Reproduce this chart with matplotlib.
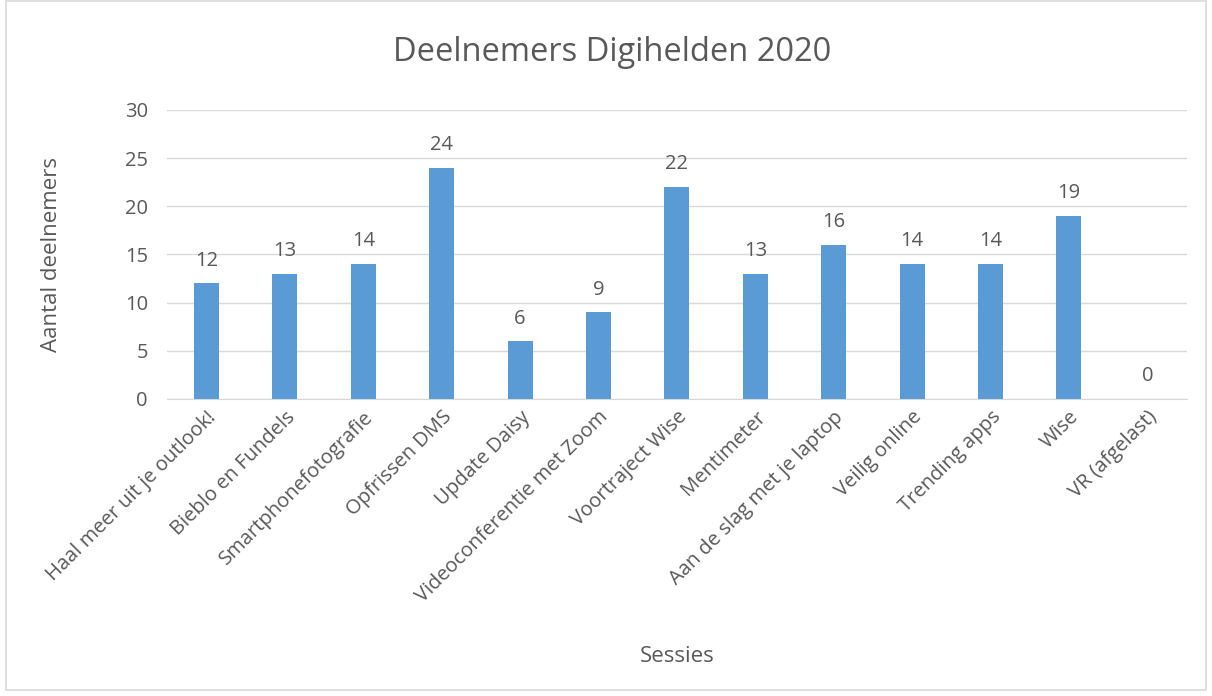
import numpy as np
import matplotlib.pyplot as plt
from matplotlib.patches import Rectangle

plt.rcParams['font.family'] = ['Open Sans', 'DejaVu Sans']

sessies = ['Haal meer uit je outlook!', 'Bieblo en Fundels', 'Smartphonefotografie',
           'Opfrissen DMS', 'Update Daisy', 'Videoconferentie met Zoom',
           'Voortraject Wise', 'Mentimeter', 'Aan de slag met je laptop',
           'Veilig online', 'Trending apps', 'Wise', 'VR (afgelast)']
deelnemers = [12, 13, 14, 24, 6, 9, 22, 13, 16, 14, 14, 19, 0]

txt = '#595959'
fig = plt.figure(figsize=(12.12, 6.96), dpi=100)
ax = fig.add_axes([0.138, 0.427, 0.841, 0.415])

x = np.arange(len(sessies))
ax.bar(x, deelnemers, width=0.32, color='#5b9bd5', zorder=3)
for xi, v in zip(x, deelnemers):
    ax.text(xi, v + 1.3, str(v), ha='center', va='bottom', fontsize=14.5, color=txt)

ax.set_xlim(-0.5, len(sessies) - 0.5)
ax.set_ylim(0, 30)
ax.set_yticks(range(0, 31, 5))
ax.grid(axis='y', color='#d9d9d9', linewidth=1, zorder=0)
for s in ['top', 'right', 'left']:
    ax.spines[s].set_visible(False)
ax.spines['bottom'].set_color('#d9d9d9')
ax.tick_params(axis='both', length=0, labelsize=14.5, colors=txt)
ax.tick_params(axis='y', pad=14)
ax.tick_params(axis='x', pad=6)
ax.set_xticks(x)
ax.set_xticklabels(sessies, rotation=45, ha='right', rotation_mode='anchor')

fig.text(0.505, 0.925, 'Deelnemers Digihelden 2020', ha='center', va='center',
         fontsize=23.5, color=txt)
ax.set_ylabel('Aantal deelnemers', fontsize=16, color=txt)
ax.yaxis.set_label_coords(-0.103, 0.5)
fig.text(0.5586, 0.057, 'Sessies', ha='center', va='center', fontsize=16, color=txt)

fig.patches.append(Rectangle((0.005, 0.008), 0.99, 0.99, transform=fig.transFigure,
                             fill=False, edgecolor='#d9d9d9', linewidth=1.2))

fig.savefig('out.png', dpi=100)
